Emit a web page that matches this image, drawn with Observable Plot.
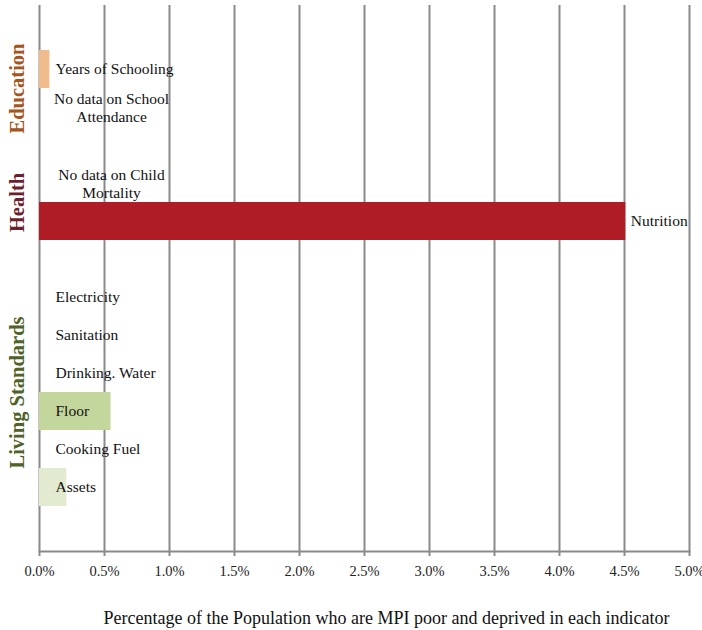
<!DOCTYPE html>
<html><head><meta charset="utf-8">
<script src="https://cdn.jsdelivr.net/npm/d3@7"></script>
<script src="https://cdn.jsdelivr.net/npm/@observablehq/plot@0.6"></script>
<style>body{margin:0;background:#fff} svg{display:block}</style>
</head><body><div id="chart"></div>
<script>
// Row order (spacer rows keep the gaps of the original layout)
const rows = ["pad-top", "Years of Schooling", "School Attendance", "gap-1", "Child Mortality", "Nutrition", "gap-2",
  "Electricity", "Sanitation", "Drinking. Water", "Floor", "Cooking Fuel", "Assets", "pad-bottom"];
const indicators = ["Years of Schooling", "School Attendance", "Child Mortality", "Nutrition", "Electricity",
  "Sanitation", "Drinking. Water", "Floor", "Cooking Fuel", "Assets"];
const values = [0.08, null, null, 4.51, null, null, null, 0.55, null, 0.21];
const labels = ["Years of Schooling", "No data on School\nAttendance", "No data on Child\nMortality", "Nutrition",
  "Electricity", "Sanitation", "Drinking. Water", "Floor", "Cooking Fuel", "Assets"];
const barColors = ["#f0bc8c", null, null, "#b01c26", null, null, null, "#c3d69b", null, "#e2ead0"];
const groups = ["Education", "Health", "Living Standards"];
const groupMembers = [["Years of Schooling", "School Attendance"], ["Child Mortality", "Nutrition"],
  ["Electricity", "Sanitation", "Drinking. Water", "Floor", "Cooking Fuel", "Assets"]];
const groupColors = ["#a5541e", "#6e1f2e", "#4f6228"];
const xTicks = [0, 0.5, 1, 1.5, 2, 2.5, 3, 3.5, 4, 4.5, 5];
const axisTitle = "Percentage of the Population who are MPI poor and deprived in each indicator";

const data = indicators.map((k, i) => ({indicator: k, value: values[i], label: labels[i], color: barColors[i]}));
const font = "Liberation Serif";
const yRange = [12, 544];
const step = (yRange[1] - yRange[0]) / rows.length;

const bars = data.filter(d => d.value != null);
const singleLabels = data.filter(d => !d.label.includes("\n") && d.indicator !== "Nutrition");
const multiLabels = data.filter(d => d.label.includes("\n"));
const endLabels = data.filter(d => d.indicator === "Nutrition");

const groupMarks = groups.map((g, i) => Plot.text([g], {
  frameAnchor: "left", dx: -22,
  y: () => groupMembers[i][0],
  dy: (groupMembers[i].length - 1) * step / 2,
  text: d => d, rotate: -90, textAnchor: "middle", lineAnchor: "middle",
  fill: groupColors[i], fontSize: 20.5, fontWeight: "bold", fontFamily: font
}));

const chart = Plot.plot({
  width: 702, height: 630,
  marginLeft: 39, marginRight: 13, marginTop: 5, marginBottom: 79,
  style: {fontFamily: font, background: "#fff"},
  x: {domain: [0, 5], axis: null},
  y: {type: "band", domain: rows, range: yRange, padding: 0, axis: null},
  color: {type: "identity"},
  marks: [
    Plot.ruleX(xTicks, {stroke: "#8a8a8a", strokeWidth: 2}),
    Plot.barX(bars, {x: "value", y: "indicator", fill: "color"}),
    Plot.frame({anchor: "bottom", stroke: "#8a8a8a", strokeWidth: 2}),
    Plot.axisX(xTicks, {tickSize: 5, tickPadding: 9, strokeWidth: 2, stroke: "#8a8a8a", fill: "#222",
      tickFormat: d => d.toFixed(1) + "%", fontSize: 14.5, fontFamily: font, label: null}),
    Plot.text(singleLabels, {x: 0, y: "indicator", text: "label", dx: 16, textAnchor: "start",
      fill: "#111", fontSize: 15.5, fontFamily: font}),
    Plot.text(multiLabels, {x: 0, y: "indicator", text: "label", dx: 72, textAnchor: "middle",
      lineHeight: 1.18, fill: "#111", fontSize: 15.5, fontFamily: font}),
    Plot.text(endLabels, {x: "value", y: "indicator", text: "label", dx: 5, textAnchor: "start",
      fill: "#111", fontSize: 15.5, fontFamily: font}),
    ...groupMarks,
    Plot.text([axisTitle], {frameAnchor: "bottom", dx: 22, dy: 72, text: d => d,
      fill: "#111", fontSize: 18, fontFamily: font})
  ]
});
document.getElementById("chart").append(chart);
</script>
</body></html>
